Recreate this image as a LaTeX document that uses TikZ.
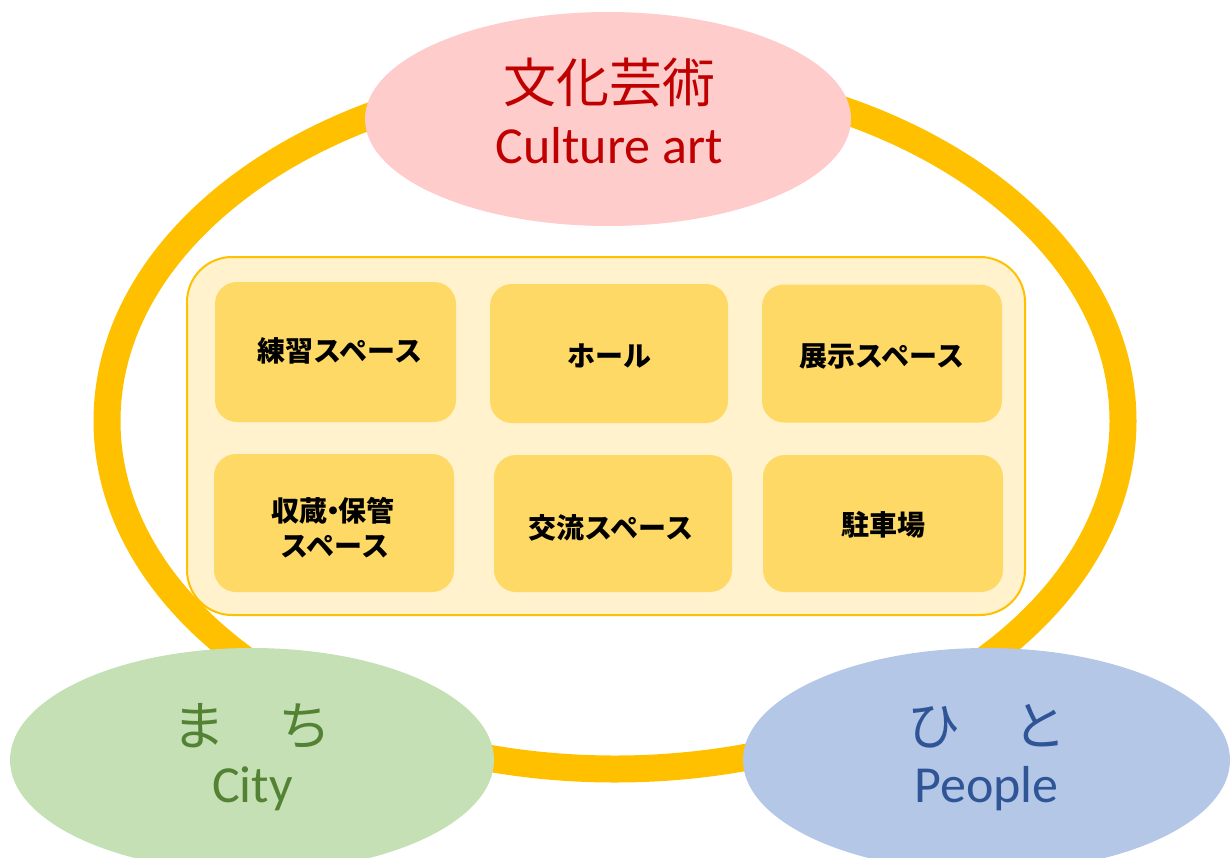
\documentclass[tikz,border=0pt]{standalone}
\usepackage{fontspec}
\setmainfont{Carlito}
\newfontfamily\jp{Noto Sans CJK JP}
\usetikzlibrary{shapes.geometric}
\definecolor{ringc}{HTML}{FFC000}
\definecolor{framefill}{HTML}{FFF2CC}
\definecolor{boxfill}{HTML}{FFD966}
\definecolor{pinkfill}{HTML}{FFCCCC}
\definecolor{redtext}{HTML}{C00000}
\definecolor{greenfill}{HTML}{C5E0B4}
\definecolor{greentext}{HTML}{548235}
\definecolor{bluefill}{HTML}{B4C7E7}
\definecolor{bluetext}{HTML}{2F5597}
\tikzset{
  ringline/.style={draw=ringc, line width=27pt},
  frame/.style={draw=ringc, line width=2pt, fill=framefill, rounded corners=45pt,
    minimum width=838pt, minimum height=358pt, inner sep=0pt},
  roombox/.style={fill=boxfill, rounded corners=22pt, inner sep=0pt,
    minimum width=240pt, minimum height=138pt},
  roomtext/.style={anchor=base, inner sep=0pt, font=\jp\bfseries\fontsize{28}{34}\selectfont, align=center},
  bubble/.style={ellipse, inner sep=0pt, minimum width=486pt, minimum height=214pt},
  bigjp/.style={anchor=base, inner sep=0pt, font=\jp\fontsize{53}{60}\selectfont},
  bigen/.style={anchor=base, inner sep=0pt, font=\fontsize{52}{60}\selectfont},
}
\begin{document}
\begin{tikzpicture}[x=1pt,y=-1pt]
\useasboundingbox (0,0) rectangle (1231,857);
% big ring
\draw[ringline] (615,421) ellipse [x radius=508, y radius=348];
% inner frame
\node[frame] (frame) at (606,436) {};
% rooms
\node[roombox, minimum width=241pt, minimum height=140pt] (b1) at (335.5,352) {};
\node[roombox, minimum width=238pt, minimum height=139pt] (b2) at (609,353.5) {};
\node[roombox] (b3) at (882,353.5) {};
\node[roombox] (b4) at (334,523) {};
\node[roombox, minimum width=238pt, minimum height=137pt] (b5) at (613,523.5) {};
\node[roombox, minimum height=137pt] (b6) at (883,523.5) {};
\node[roomtext] (t1) at (340,361) {練習スペース};
\node[roomtext] (t2) at (609,366) {ホール};
\node[roomtext] (t3) at (882,366) {展示スペース};
\node[roomtext] (t4a) at (333,521) {収蔵\kern-0.3em・\kern-0.3em保管};
\node[roomtext] (t4b) at (335,556) {スペース};
\node[roomtext] (t5) at (611,538) {交流スペース};
\node[roomtext] (t6) at (883,535) {駐車場};
% bubbles
\node[bubble, fill=pinkfill] (culture) at (608,119) {};
\node[bubble, fill=greenfill, minimum width=484pt, minimum height=224pt] (city) at (252,760) {};
\node[bubble, fill=bluefill, minimum width=487pt, minimum height=224pt] (people) at (986.5,760) {};
\node[bigjp, text=redtext] (culturejp) at (609,102) {文化芸術};
\node[bigen, text=redtext] (cultureen) at (609,163) {Culture art};
\node[bigjp, text=greentext] (cityjp) at (251.5,745) {ま　ち};
\node[bigen, text=greentext] (cityen) at (252.5,802) {City};
\node[bigjp, text=bluetext] (peoplejp) at (986.5,745) {ひ　と};
\node[bigen, text=bluetext] (peopleen) at (986.5,802) {People};
\end{tikzpicture}
\end{document}
